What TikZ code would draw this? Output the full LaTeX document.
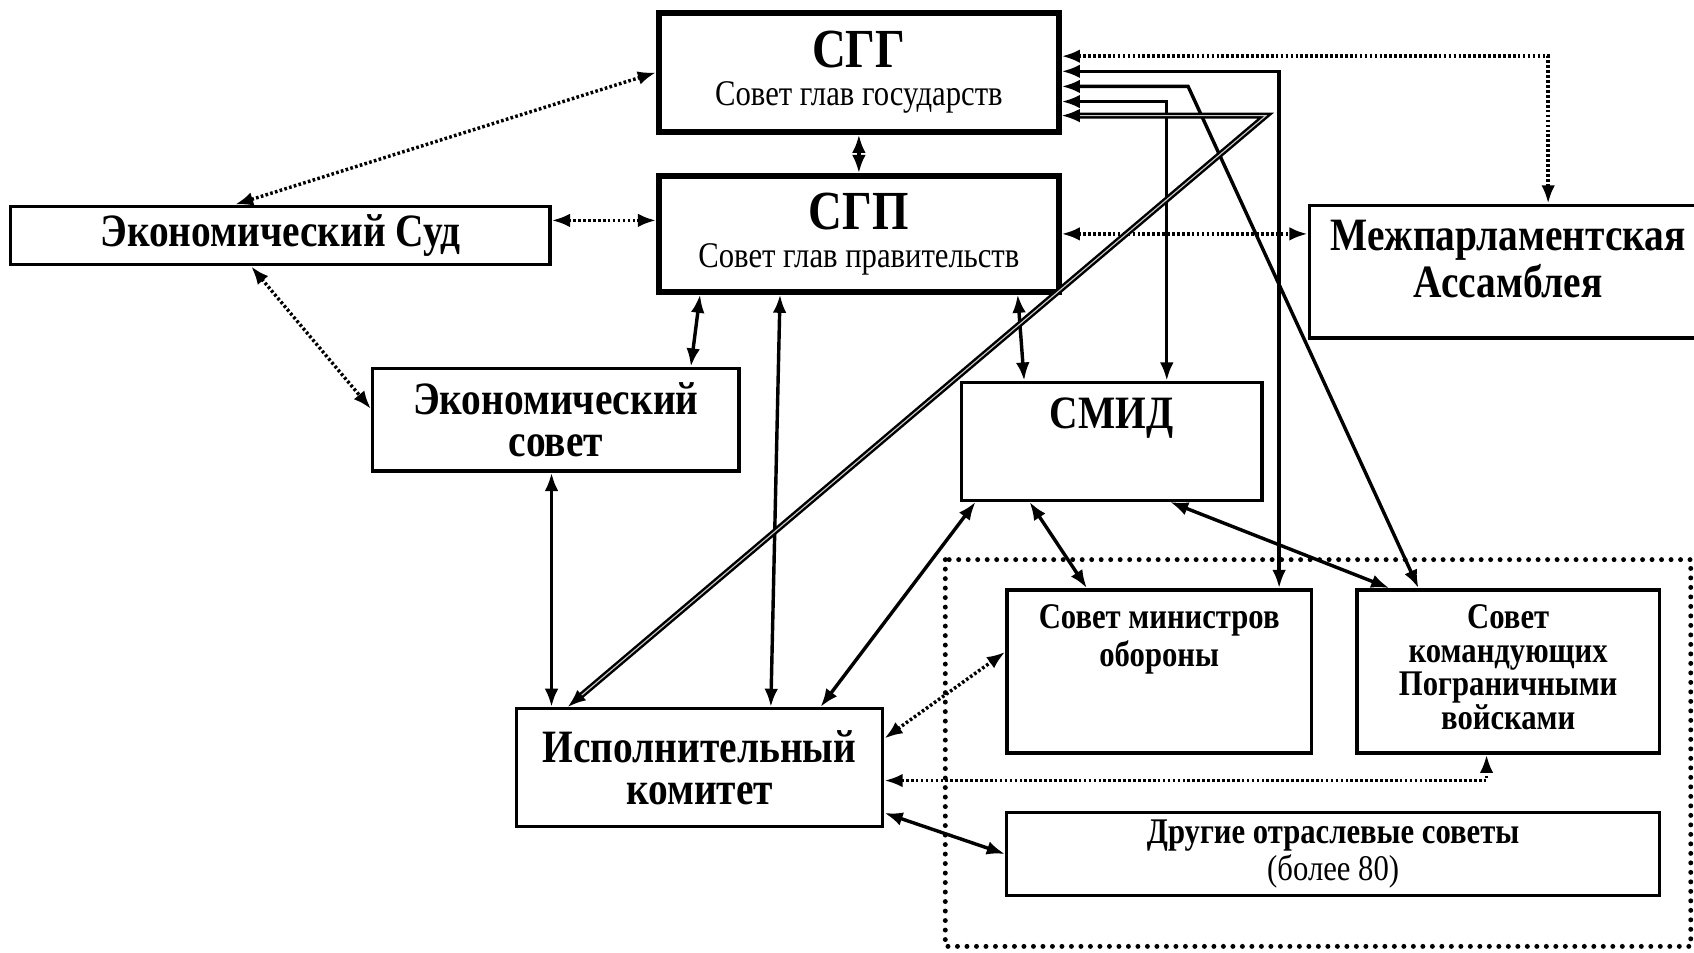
\documentclass[tikz,border=0pt]{standalone}
\usepackage{fontspec}
\setmainfont{Liberation Serif}[FakeStretch=0.85]
\usetikzlibrary{arrows.meta,calc}

\begin{document}
\begin{tikzpicture}[x=0.01cm, y=-0.01cm, >={Latex[length=4.8pt,width=3.6pt]},
 box/.style={draw, line width=0.9pt, inner sep=0pt, align=center},
 bigbox/.style={box, line width=1.5pt},
 title/.style={font=\fontsize{12.2}{11.2}\selectfont\bfseries},
 sub/.style={font=\fontsize{9.5}{8.8}\selectfont\bfseries},
 toplab/.style={anchor=north, inner sep=0pt, align=center, yshift=-0.15cm},
 con/.style={<->, line width=0.9pt},
 dcon/.style={<->, line width=0.9pt, dash pattern=on 0.7pt off 0.6pt},
 group/.style={line width=1.3pt, dash pattern=on 0pt off 2.5pt, line cap=round}]
 \path[use as bounding box, clip] (0,0) rectangle (1568,882);

 % branch councils
 \draw[group] (875,518) rectangle (1565,876);

 \node[bigbox, minimum width=3.7cm, minimum height=1.1cm, font=\fontsize{9.5}{10}\selectfont] (sgg) at (795,67)
   {{\fontsize{14.5}{15}\selectfont\bfseries СГГ}\\Совет глав государств};
 \node[bigbox, minimum width=3.7cm, minimum height=1.07cm, font=\fontsize{9.5}{10}\selectfont] (sgp) at (795,216.5)
   {{\fontsize{14.5}{15}\selectfont\bfseries СГП}\\Совет глав правительств};
 \node[box, title, minimum width=4.99cm, minimum height=0.54cm] (sud) at (259.5,218) {Экономический Суд};
 \node[box, minimum width=3.68cm, minimum height=1.23cm,
   label={[toplab, title]north:Межпарламентская\\Ассамблея}] (mpa) at (1396,251.5) {};
 \node[box, title, minimum width=3.39cm, minimum height=0.95cm] (econ) at (514.5,388.5) {Экономический\\совет};
 \node[box, minimum width=2.78cm, minimum height=1.09cm,
   label={[toplab, title]north:СМИД}] (smid) at (1029,408.5) {};
 \node[box, title, minimum width=3.39cm, minimum height=1.09cm] (isp) at (647.5,710.5) {Исполнительный\\комитет};
 \node[box, minimum width=2.82cm, minimum height=1.51cm,
   label={[toplab, sub]north:Совет министров\\обороны}] (smo) at (1073,621.5) {};
 \node[box, minimum width=2.8cm, minimum height=1.51cm,
   label={[toplab, sub]north:Совет\\командующих\\Пограничными\\войсками}] (skpv) at (1396,621.5) {};
 \node[box, sub, minimum width=6.04cm, minimum height=0.77cm] (other) at (1234,790.5)
   {Другие отраслевые советы\\{\mdseries (более 80)}};

 % links of the councils of heads
 \draw[dcon] (sgg.west) -- ($(sud.north)+(-42,0)$);
 \draw[con] (sgg.south) -- (sgp.north);
 \draw[dcon] ($(sud.east)+(0,-14)$) -- ($(sgp.west)+(0,-12.5)$);
 \draw[dcon] ($(sud.south)+(-27,0)$) -- ($(econ.west)+(0,-10)$);
 \draw[con] ($(sgp.south)+(-147,0)$) -- ($(econ.north)+(125,0)$);
 \draw[con] ($(sgp.south)+(-73,0)$) -- ($(isp.north)+(66,0)$);
 \draw[con] ($(sgp.south)+(147,0)$) -- ($(smid.north)+(-81,0)$);
 \draw[con] ($(econ.south)+(-4,0)$) -- ($(isp.north)+(-137,0)$);
 \draw[dcon] (sgp.east) -- (sgp.east -| mpa.west);
 \draw[dcon] ($(sgg.east)+(0,-15)$) -| ($(mpa.north)+(37,0)$);
 \draw[con] ($(sgg.east)+(0,-1)$) -| ($(smo.north)+(111,0)$);
 \draw[con] ($(sgg.east)+(0,13)$) -- ++(117,0) -- ($(skpv.north)+(-83,0)$);
 \draw[con] ($(sgg.east)+(0,27)$) -| ($(smid.north)+(51,0)$);
 \draw[<->, line width=0.65pt, double=gray!40, double distance=0.3pt] ($(sgg.east)+(0,40)$) -- ++(189,0) -- ($(isp.north)+(-122,0)$);

 % links of the ministers
 \draw[con] ($(smid.south)+(-126,0)$) -- ($(isp.north)+(112,0)$);
 \draw[con] ($(smid.south)+(-76,0)$) -- ($(smo.north)+(-67,0)$);
 \draw[con] ($(smid.south)+(54,0)$) -- ($(skpv.north)+(-110,0)$);
 \draw[dcon] ($(isp.east)+(0,-27)$) -- ($(smo.west)+(0,-18)$);
 \draw[dcon] ($(isp.east)+(0,12)$) -| ($(skpv.south)+(-20,0)$);
 \draw[con] ($(isp.east)+(0,42)$) -- (other.west);
\end{tikzpicture}
\end{document}
